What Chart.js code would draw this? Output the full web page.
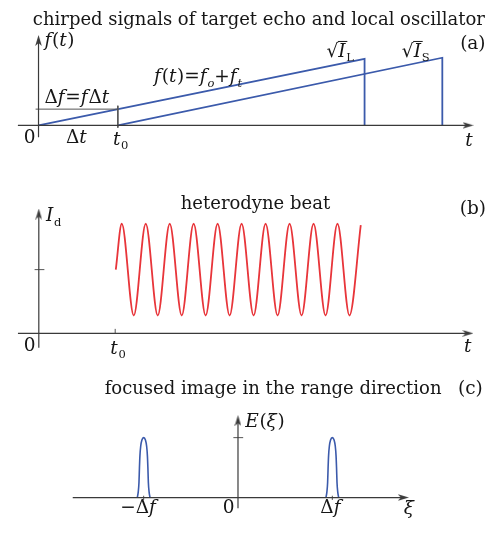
<!DOCTYPE html>
<html>
<head>
<meta charset="utf-8">
<script src="https://cdn.jsdelivr.net/npm/chart.js"></script>
<style>
  body { margin: 0; background: #fff; }
  #wrap { position: relative; width: 504px; height: 533px; }
  #wrap canvas { position: absolute; left: 0; }
</style>
</head>
<body>
<div id="wrap">
  <canvas id="chirpChart" width="504" height="180" style="top:0"></canvas>
  <canvas id="beatChart" width="504" height="190" style="top:180px"></canvas>
  <canvas id="imageChart" width="504" height="163" style="top:370px"></canvas>
</div>
<script>
// (a) chirped signals: local oscillator and target echo (time, frequency)
const loTime = [0, 4.11, 4.11];
const loFreq = [0, 4.10, 0];
const echoTime = [1, 5.09, 5.09];
const echoFreq = [0, 4.17, 0];

// (b) heterodyne beat: start, then peaks / troughs, then end
const beatTime = [1.008, 1.086, 1.243, 1.400, 1.557, 1.714, 1.871, 2.027, 2.184, 2.341, 2.498,
                  2.655, 2.812, 2.969, 3.126, 3.283, 3.440, 3.597, 3.754, 3.910, 4.067, 4.215];
const beatCurrent = [1.00, 1.72, 0.28, 1.72, 0.28, 1.72, 0.28, 1.72, 0.28, 1.72, 0.28,
                     1.72, 0.28, 1.72, 0.28, 1.72, 0.28, 1.72, 0.28, 1.72, 0.28, 1.70];

// (c) focused image: two narrow pulses at -Δf and +Δf
const pulseLeftXi = [-1.0675, -1.0571, -1.0498, -1.0447, -1.0395, -1.0312, -1.0187, -1.0,
                     -0.9813, -0.9688, -0.9605, -0.9553, -0.9502, -0.9429, -0.9325];
const pulseRightXi = [0.9325, 0.9429, 0.9502, 0.9553, 0.9605, 0.9688, 0.9813, 1.0,
                      1.0187, 1.0312, 1.0395, 1.0447, 1.0498, 1.0571, 1.0675];
const pulseE = [0, 0.10, 0.25, 0.50, 0.70, 0.86, 0.96, 1, 0.96, 0.86, 0.70, 0.50, 0.25, 0.10, 0];

const BLUE = '#3b5aab';
const RED = '#e8353a';
const AXIS = '#3a3a3a';
const TICK = '#555';
const INK = '#161616';
const SERIF = '"DejaVu Serif", serif';
const TITLE_SIZE = 18;
const LABEL_SIZE = 18.5;

// small barbed arrow head, pointing up
function makeArrow() {
    const c = document.createElement('canvas');
    c.width = 7;
    c.height = 11;
    const g = c.getContext('2d');
    g.fillStyle = AXIS;
    g.beginPath();
    g.moveTo(3.5, 0);
    g.lineTo(6.8, 11);
    g.lineTo(3.5, 8);
    g.lineTo(0.2, 11);
    g.closePath();
    g.fill();
    return c;
}
const arrowHead = makeArrow();

function toPoints(xs, ys) {
    return xs.map((x, i) => ({ x: x, y: ys[i] }));
}

function lineSet(xs, ys, color, width, extra) {
    return Object.assign({
        data: toPoints(xs, ys),
        showLine: true,
        borderColor: color,
        borderWidth: width,
        pointRadius: 0,
        fill: false
    }, extra || {});
}

// axis line ending with an arrow head on its last point
function axisSet(xs, ys, rotation) {
    return lineSet(xs, ys, AXIS, 1.2, {
        pointStyle: arrowHead,
        pointRotation: rotation,
        pointRadius: ctx => ctx.dataIndex === 1 ? 3 : 0
    });
}

// draws text made of segments: [text, flags] with i = italic, s = subscript, o = overline
function drawRich(ctx, x, y, segs, align, size) {
    const parts = segs.map(([t, f]) => {
        const sub = f.includes('s');
        const sz = sub ? size * 0.62 : size;
        const font = (f.includes('i') ? 'italic ' : '') + sz.toFixed(1) + 'px ' + SERIF;
        ctx.font = font;
        const w = ctx.measureText(t).width + (f.includes('i') && !sub ? size * 0.04 : 0);
        return { t: t, font: font, w: w, sub: sub, over: f.includes('o') };
    });
    const total = parts.reduce((s, p) => s + p.w, 0);
    let cx = align === 'center' ? x - total / 2 : (align === 'right' ? x - total : x);
    parts.forEach(p => {
        ctx.font = p.font;
        ctx.fillText(p.t, cx, p.sub ? y + size * 0.24 : y);
        if (p.over) {
            ctx.beginPath();
            ctx.moveTo(cx - 0.5, y - size * 0.84);
            ctx.lineTo(cx + p.w + 1, y - size * 0.84);
            ctx.stroke();
        }
        cx += p.w;
    });
}

// plugin that puts the labels at data coordinates
const textPlugin = {
    id: 'texts',
    afterDatasetsDraw(chart, args, opts) {
        const ctx = chart.ctx;
        const sx = chart.scales.x;
        const sy = chart.scales.y;
        ctx.save();
        ctx.fillStyle = INK;
        ctx.strokeStyle = INK;
        ctx.lineWidth = 1;
        ctx.textBaseline = 'alphabetic';
        (opts.items || []).forEach(it => {
            drawRich(ctx, sx.getPixelForValue(it.x), sy.getPixelForValue(it.y),
                     it.segs, it.align || 'left', it.size || LABEL_SIZE);
        });
        ctx.restore();
    }
};

function baseOptions(xMin, xMax, yMin, yMax, items) {
    return {
        responsive: false,
        animation: false,
        events: [],
        layout: { padding: 0 },
        scales: {
            x: { type: 'linear', display: false, min: xMin, max: xMax },
            y: { type: 'linear', display: false, min: yMin, max: yMax }
        },
        plugins: {
            legend: { display: false },
            tooltip: { enabled: false },
            texts: { items: items }
        }
    };
}

function initChirpChart() {
    const items = [
        { x: 2.778, y: 6.21, align: 'center', size: TITLE_SIZE,
          segs: [['chirped signals of target echo and local oscillator', '']] },
        { x: 5.475, y: 4.68, align: 'center', segs: [['(a)', '']] },
        { x: 0.074, y: 4.895, segs: [['f', 'i'], ['(', ''], ['t', 'i'], [')', '']] },
        { x: 0.074, y: 1.407, segs: [['Δ', ''], ['f', 'i'], ['=', ''], ['f', 'i'], ['Δ', ''], ['t', 'i']] },
        { x: 1.457, y: 2.645, segs: [['f', 'i'], ['(', ''], ['t', 'i'], [')=', ''], ['f', 'i'],
                                     ['o', 'is'], ['+', ''], ['f', 'i'], ['t', 'is']] },
        { x: 3.63, y: 4.215, segs: [['√', ''], ['I', 'io'], ['L', 's']] },
        { x: 4.58, y: 4.215, segs: [['√', ''], ['I', 'io'], ['S', 's']] },
        { x: -0.111, y: -1.116, align: 'center', segs: [['0', '']] },
        { x: 0.481, y: -1.116, align: 'center', segs: [['Δ', ''], ['t', 'i']] },
        { x: 0.938, y: -1.21, segs: [['t', 'i'], ['0', 's']] },
        { x: 5.432, y: -1.267, align: 'center', segs: [['t', 'i']] }
    ];
    new Chart(document.getElementById('chirpChart'), {
        type: 'scatter',
        data: {
            datasets: [
                axisSet([-0.26, 5.414], [0, 0], 90),
                axisSet([0, 0], [-0.73, 5.233], 0),
                lineSet([-0.037, 1.0], [1, 1], TICK, 1),
                lineSet([1, 1], [1.209, -0.145], TICK, 1),
                lineSet(loTime, loFreq, BLUE, 1.8),
                lineSet(echoTime, echoFreq, BLUE, 1.8)
            ]
        },
        options: baseOptions(-0.42, 5.802, -3.05, 7.41, items),
        plugins: [textPlugin]
    });
}

function initBeatChart() {
    const items = [
        { x: 2.836, y: 1.954, align: 'center', size: TITLE_SIZE, segs: [['heterodyne beat', '']] },
        { x: 5.682, y: 1.88, align: 'center', segs: [['(b)', '']] },
        { x: 0.095, y: 1.757, segs: [['I', 'i'], ['d', 's']] },
        { x: -0.119, y: -0.272, align: 'center', segs: [['0', '']] },
        { x: 0.936, y: -0.32, segs: [['t', 'i'], ['0', 's']] },
        { x: 5.62, y: -0.297, align: 'center', segs: [['t', 'i']] }
    ];
    new Chart(document.getElementById('beatChart'), {
        type: 'scatter',
        data: {
            datasets: [
                axisSet([-0.273, 5.618], [0, 0], 90),
                axisSet([0, 0], [-0.228, 1.872], 0),
                lineSet([-0.055, 0.073], [1, 1], TICK, 1),
                lineSet([1, 1], [-0.01, 0.07], TICK, 1),
                lineSet(beatTime, beatCurrent, RED, 1.8, { cubicInterpolationMode: 'monotone' })
            ]
        },
        options: baseOptions(-0.44, 6.022, -0.494, 2.325, items),
        plugins: [textPlugin]
    });
}

function initImageChart() {
    const items = [
        { x: 0.372, y: 1.73, align: 'center', size: TITLE_SIZE, segs: [['focused image in the range direction', '']] },
        { x: 2.464, y: 1.73, align: 'center', segs: [['(c)', '']] },
        { x: 0.076, y: 1.183, segs: [['E', 'i'], ['(', ''], ['ξ', 'i'], [')', '']] },
        { x: -1.056, y: -0.255, align: 'center', segs: [['−Δ', ''], ['f', 'i']] },
        { x: -0.10, y: -0.255, align: 'center', segs: [['0', '']] },
        { x: 0.984, y: -0.255, align: 'center', segs: [['Δ', ''], ['f', 'i']] },
        { x: 1.815, y: -0.27, align: 'center', segs: [['ξ', 'i']] }
    ];
    new Chart(document.getElementById('imageChart'), {
        type: 'scatter',
        data: {
            datasets: [
                axisSet([-1.752, 1.753], [0, 0], 90),
                axisSet([0, 0], [-0.177, 1.284], 0),
                lineSet([-0.049, 0.055], [1, 1], TICK, 1),
                lineSet([-1, -1], [-0.04, 0.03], TICK, 1),
                lineSet([1, 1], [-0.04, 0.03], TICK, 1),
                lineSet(pulseLeftXi, pulseE, BLUE, 1.6, { cubicInterpolationMode: 'monotone' }),
                lineSet(pulseRightXi, pulseE, BLUE, 1.6, { cubicInterpolationMode: 'monotone' })
            ]
        },
        options: baseOptions(-2.468, 2.765, -0.505, 2.042, items),
        plugins: [textPlugin]
    });
}

document.addEventListener('DOMContentLoaded', function() {
    initChirpChart();
    initBeatChart();
    initImageChart();
});
</script>
</body>
</html>
